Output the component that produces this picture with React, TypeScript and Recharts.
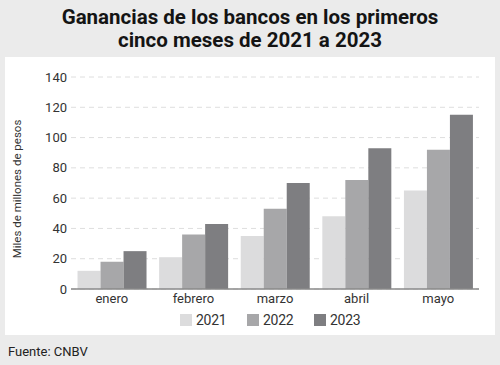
import React from 'react';
import { BarChart, Bar, XAxis, YAxis, CartesianGrid, Legend } from 'recharts';

const months = ['enero', 'febrero', 'marzo', 'abril', 'mayo'];
const v2021 = [12, 21, 35, 48, 65];
const v2022 = [18, 36, 53, 72, 92];
const v2023 = [25, 43, 70, 93, 115];
const yTicks = [0, 20, 40, 60, 80, 100, 120, 140];
const seriesKeys = ['2021', '2022', '2023'];
const seriesColors = ['#dcdcdd', '#a7a7a9', '#7e7e81'];

const data = months.map((m, i) => ({ month: m, '2021': v2021[i], '2022': v2022[i], '2023': v2023[i] }));

const FONT = 'Roboto, "Noto Sans", sans-serif';

const renderLegend = () => (
  <div style={{ display: 'flex', paddingLeft: 175, height: 22, alignItems: 'center', fontFamily: FONT, fontSize: 14, color: '#333' }}>
    {seriesKeys.map((k, i) => (
      <div key={k} style={{ width: 67, display: 'flex', alignItems: 'center' }}>
        <div style={{ width: 12, height: 12, background: seriesColors[i], marginRight: 4 }} />
        <span style={{ letterSpacing: -0.3 }}>{k}</span>
      </div>
    ))}
  </div>
);

export default function App() {
  return (
    <div style={{ position: 'absolute', left: 0, top: 0, width: 500, height: 365, background: '#ebebeb', overflow: 'hidden' }}>
      <div style={{ position: 'absolute', left: 0, top: 6, width: 500, textAlign: 'center', fontFamily: FONT, fontWeight: 700, fontSize: 20.5, lineHeight: '23px', color: '#141414' }}>
        Ganancias de los bancos en los primeros<br />cinco meses de 2021 a 2023
      </div>
      <div style={{ position: 'absolute', left: 5, top: 57, width: 490, height: 278, background: '#ffffff' }}>
        <BarChart width={490} height={278} data={data} margin={{ top: 20, right: 16, bottom: 4, left: 16 }} barCategoryGap="8%" barGap={0}>
          <CartesianGrid vertical={false} stroke="#dedede" strokeDasharray="5 4" />
          <XAxis dataKey="month" height={20} tickLine={false} tickSize={0} tickMargin={5} stroke="#8a8a8a" strokeWidth={1.5}
            tick={{ fill: '#333', fontSize: 13, fontFamily: FONT }} />
          <YAxis width={50} domain={[0, 140]} ticks={yTicks} axisLine={false} tickLine={false} tickSize={0} tickMargin={4}
            tick={{ fill: '#333', fontSize: 13, fontFamily: FONT }}
            label={{
              content: () => (
                <text x={13} y={132} transform="rotate(-90 13 132)" textAnchor="middle" dominantBaseline="middle" fill="#333" fontSize={11.5} fontFamily={FONT}>
                  Miles de millones de pesos
                </text>
              ),
            }} />
          <Legend verticalAlign="bottom" content={renderLegend} wrapperStyle={{ left: 0, width: 490 }} />
          {seriesKeys.map((k, i) => (
            <Bar key={k} dataKey={k} fill={seriesColors[i]} isAnimationActive={false} />
          ))}
        </BarChart>
      </div>
      <div style={{ position: 'absolute', left: 8, top: 344, fontFamily: FONT, fontSize: 13, color: '#222' }}>
        Fuente: CNBV
      </div>
    </div>
  );
}
